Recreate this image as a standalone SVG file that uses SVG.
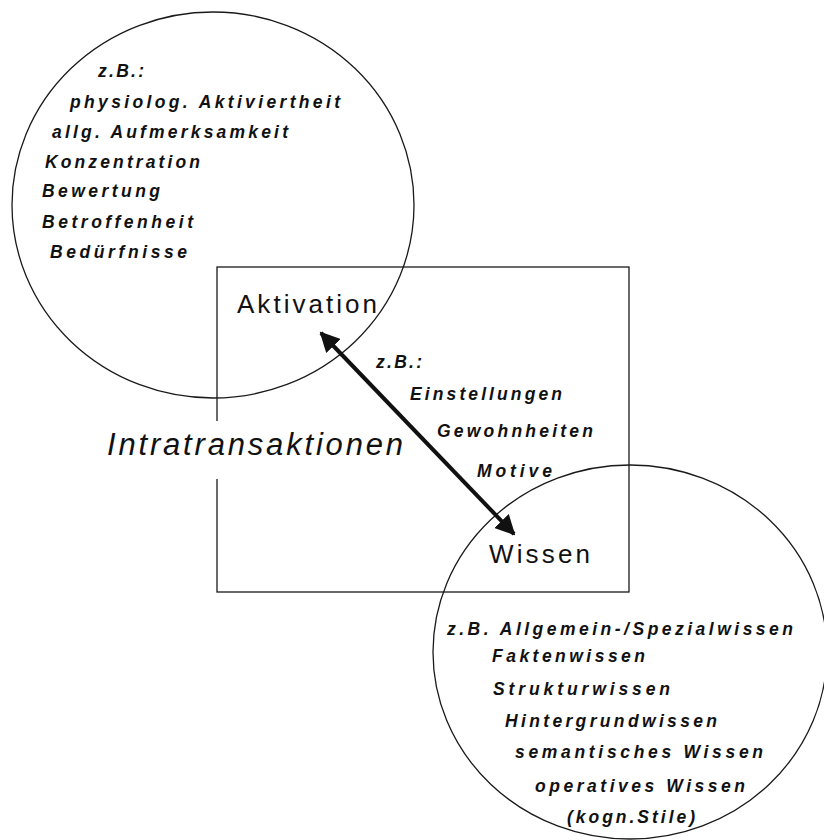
<svg xmlns="http://www.w3.org/2000/svg" width="824" height="840" viewBox="0 0 824 840">
<style>
.ln{fill:none;stroke:#1a1a1a;stroke-width:1.3}
.s{font-family:"Liberation Sans",Arial,sans-serif;font-size:17.5px;font-weight:bold;font-style:italic;fill:#111}
.big{font-family:"Liberation Sans",Arial,sans-serif;font-size:26px;fill:#111}
.it{font-family:"Liberation Sans",Arial,sans-serif;font-size:31px;font-style:italic;fill:#111}
</style>
<defs>
<marker id="ah" viewBox="0 0 10 10" refX="9" refY="5" markerWidth="5" markerHeight="5" orient="auto-start-reverse" markerUnits="strokeWidth">
<path d="M0,0 L10,5 L0,10 z" fill="#111"/>
</marker>
</defs>
<rect width="824" height="840" fill="#fff"/>
<g id="box">
<rect class="ln" x="217" y="267" width="412" height="325"/>
</g>
<g id="aktivation-circle">
<ellipse class="ln" cx="213" cy="205" rx="201" ry="193"/>
<text class="s" x="98" y="77" textLength="46" lengthAdjust="spacing">z.B.:</text>
<text class="s" x="70" y="108" textLength="270" lengthAdjust="spacing">physiolog. Aktiviertheit</text>
<text class="s" x="52" y="138" textLength="236" lengthAdjust="spacing">allg. Aufmerksamkeit</text>
<text class="s" x="45" y="168" textLength="155" lengthAdjust="spacing">Konzentration</text>
<text class="s" x="42" y="197" textLength="118" lengthAdjust="spacing">Bewertung</text>
<text class="s" x="42" y="228" textLength="151" lengthAdjust="spacing">Betroffenheit</text>
<text class="s" x="50" y="258" textLength="137" lengthAdjust="spacing">Bedürfnisse</text>
</g>
<g id="wissen-circle">
<ellipse class="ln" cx="630" cy="652" rx="197" ry="187"/>
<text class="s" x="447" y="635" textLength="346" lengthAdjust="spacing">z.B. Allgemein-/Spezialwissen</text>
<text class="s" x="492" y="662" textLength="153" lengthAdjust="spacing">Faktenwissen</text>
<text class="s" x="493" y="695" textLength="177" lengthAdjust="spacing">Strukturwissen</text>
<text class="s" x="505" y="727" textLength="212" lengthAdjust="spacing">Hintergrundwissen</text>
<text class="s" x="515" y="758" textLength="248" lengthAdjust="spacing">semantisches Wissen</text>
<text class="s" x="535" y="792" textLength="210" lengthAdjust="spacing">operatives Wissen</text>
<text class="s" x="567" y="823" textLength="128" lengthAdjust="spacing">(kogn.Stile)</text>
</g>
<g id="intratransaktionen">
<rect x="214" y="421" width="8" height="58" fill="#fff"/>
<text class="it" x="107" y="455" textLength="296" lengthAdjust="spacing">Intratransaktionen</text>
</g>
<g id="aktivation">
<text class="big" x="237" y="313" textLength="140" lengthAdjust="spacing">Aktivation</text>
</g>
<g id="wissen">
<text class="big" x="489" y="563" textLength="101" lengthAdjust="spacing">Wissen</text>
</g>
<g id="mediators">
<text class="s" x="376" y="368" textLength="46" lengthAdjust="spacing">z.B.:</text>
<text class="s" x="410" y="400" textLength="152" lengthAdjust="spacing">Einstellungen</text>
<text class="s" x="437" y="437" textLength="156" lengthAdjust="spacing">Gewohnheiten</text>
<text class="s" x="477" y="477" textLength="75" lengthAdjust="spacing">Motive</text>
</g>
<g id="connectors">
<line x1="321" y1="333" x2="514" y2="534" stroke="#111" stroke-width="4" marker-start="url(#ah)" marker-end="url(#ah)"/>
</g>
</svg>
